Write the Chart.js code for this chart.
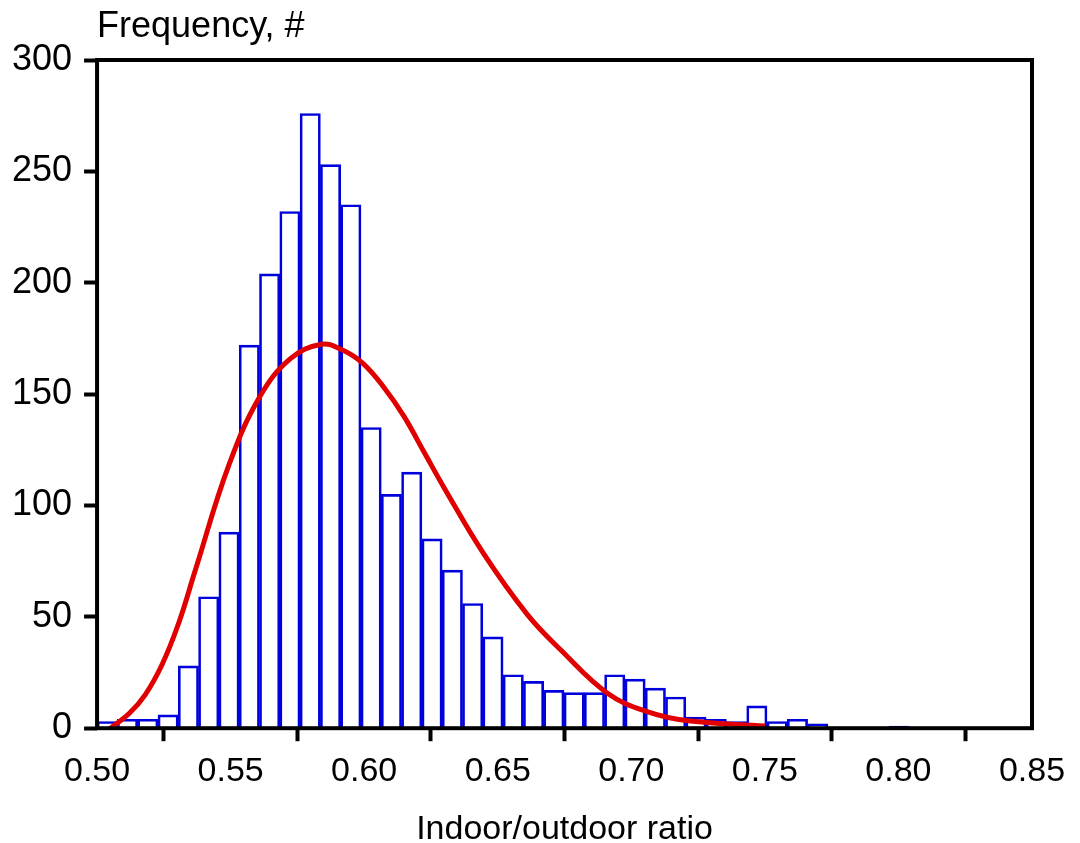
<!DOCTYPE html>
<html>
<head>
<meta charset="utf-8">
<script src="https://cdn.jsdelivr.net/npm/chart.js@4/dist/chart.umd.min.js"></script>
<style>
    body { margin: 0; background: #fff; }
    #wrap { width: 1080px; height: 843px; }
</style>
</head>
<body>
<div id="wrap"><canvas id="histChart" width="1080" height="843"></canvas></div>
<script>
// Levé okraje binů (šířka binu ~0.0076)
const binStarts = [
    0.5000, 0.5076, 0.5152, 0.5228, 0.5304, 0.5380, 0.5456, 0.5532, 0.5608, 0.5684,
    0.5760, 0.5836, 0.5912, 0.5988, 0.6064, 0.6140, 0.6216, 0.6292, 0.6368, 0.6444,
    0.6520, 0.6596, 0.6672, 0.6748, 0.6824, 0.6900, 0.6976, 0.7052, 0.7128, 0.7204,
    0.7280, 0.7356, 0.7432, 0.7508, 0.7584, 0.7660, 0.7736, 0.7812, 0.7888, 0.7964
];
const binWidth = 0.0076;

// Četnosti v jednotlivých binech
const counts = [
    3, 4, 4, 6, 28, 59, 88, 172, 204, 232,
    276, 253, 235, 135, 105, 115, 85, 71, 56, 41,
    24, 21, 17, 16, 16, 24, 22, 18, 14, 5,
    4, 3, 10, 3, 4, 2, 0, 0, 0, 1
];

// Proložená křivka
const fitX = [
    0.505, 0.512, 0.518, 0.5243, 0.5305, 0.5368, 0.5493, 0.561, 0.5725, 0.584,
    0.5915, 0.5993, 0.6074, 0.6149, 0.6224, 0.6299, 0.6449, 0.6611, 0.6737, 0.6912,
    0.7062, 0.7212, 0.75
];
const fitY = [
    0, 6.6, 15, 28.5, 47, 71, 118, 149, 166, 172.4,
    170, 164, 153, 140, 124, 108, 78, 51, 35, 15.6,
    7.3, 3.3, 1
];

const xTicks = [0.50, 0.55, 0.60, 0.65, 0.70, 0.75, 0.80, 0.85];
const yTicks = [0, 50, 100, 150, 200, 250, 300];

const barData = binStarts.map((s, i) => ({ x: s + binWidth / 2, y: counts[i] }));
const fitData = fitX.map((x, i) => ({ x: x, y: fitY[i] }));

// Rámeček kolem grafu + popisky os
const framePlugin = {
    id: 'frame',
    afterDraw(chart) {
        const { ctx, chartArea } = chart;
        ctx.save();
        ctx.strokeStyle = '#000';
        ctx.lineWidth = 4;
        ctx.strokeRect(chartArea.left, chartArea.top, chartArea.right - chartArea.left, chartArea.bottom - chartArea.top);
        ctx.fillStyle = '#000';
        ctx.textBaseline = 'alphabetic';
        ctx.font = '36px "Liberation Sans", Arial, sans-serif';
        ctx.textAlign = 'left';
        ctx.fillText('Frequency, #', chartArea.left, 37);
        ctx.font = '34px "Liberation Sans", Arial, sans-serif';
        ctx.textAlign = 'center';
        ctx.fillText('Indoor/outdoor ratio', (chartArea.left + chartArea.right) / 2, 839);
        ctx.restore();
    }
};

const tickGrid = {
    display: true,
    drawOnChartArea: false,
    drawTicks: true,
    tickLength: 13,
    tickWidth: 4,
    tickColor: '#000',
    color: '#000'
};

new Chart(document.getElementById('histChart').getContext('2d'), {
    type: 'bar',
    data: {
        datasets: [{
            type: 'line',
            label: 'Fit',
            data: fitData,
            borderColor: '#e00000',
            borderWidth: 5,
            pointRadius: 0,
            tension: 0.4,
            fill: false,
            order: 0
        }, {
            type: 'bar',
            label: 'Frequency',
            data: barData,
            backgroundColor: 'rgba(255,255,255,0)',
            borderColor: '#0000dd',
            borderWidth: 2,
            borderSkipped: 'bottom',
            barPercentage: 1,
            categoryPercentage: 1,
            grouped: false,
            order: 1
        }]
    },
    options: {
        responsive: false,
        animation: false,
        layout: { padding: { top: 60, right: 48, left: 0, bottom: 41 } },
        plugins: {
            legend: { display: false },
            tooltip: { enabled: false }
        },
        scales: {
            x: {
                type: 'linear',
                min: 0.5,
                max: 0.85,
                offset: false,
                afterBuildTicks: (axis) => { axis.ticks = xTicks.map(v => ({ value: v })); },
                ticks: {
                    color: '#000',
                    padding: 10,
                    maxRotation: 0,
                    font: { family: '"Liberation Sans", Arial', size: 34 },
                    callback: (v) => Number(v).toFixed(2)
                },
                grid: tickGrid,
                border: { display: false }
            },
            y: {
                min: 0,
                max: 300,
                afterBuildTicks: (axis) => { axis.ticks = yTicks.map(v => ({ value: v })); },
                ticks: {
                    color: '#000',
                    padding: 12,
                    font: { family: '"Liberation Sans", Arial', size: 36 }
                },
                grid: tickGrid,
                border: { display: false }
            }
        }
    },
    plugins: [framePlugin]
});
</script>
</body>
</html>
